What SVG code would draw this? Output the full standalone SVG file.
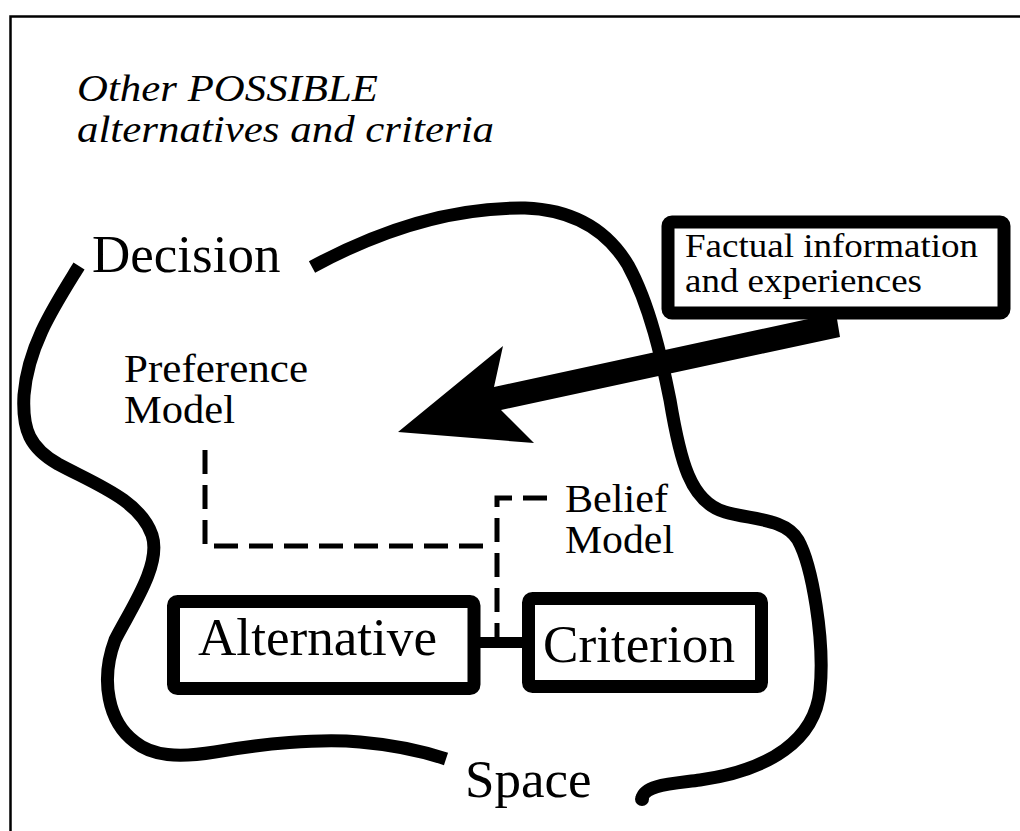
<svg xmlns="http://www.w3.org/2000/svg" width="1020" height="831" viewBox="0 0 1020 831">
  <style>
    .frame { fill: none; stroke: #000; stroke-width: 2.5; }
    .curve { fill: none; stroke: #000; stroke-width: 13; stroke-linejoin: round; }
    .box { fill: #fff; stroke: #000; stroke-width: 13; }
    .dash { fill: none; stroke: #000; stroke-width: 5; stroke-dasharray: 24 11; }
    .t { font-family: "Liberation Serif", "Times New Roman", serif; fill: #000; }
    .big { font-size: 53px; }
    .mid { font-size: 39px; }
    .small { font-size: 33px; }
    .ital { font-size: 37px; font-style: italic; }
  </style>

  <rect width="1020" height="831" fill="#fff"/>

  <!-- page frame (open on the right and bottom) -->
  <path class="frame" d="M10.5,831 V16.5 H1020"/>

  <!-- decision space boundary -->
  <g id="decision-space">
    <path class="curve" d="M79,266 C55,305 28,345 24,395 C22,430 30,448 58,464 C95,484 140,500 152,535 C162,565 130,610 115,640 C100,680 108,722 135,742 C152,756 178,758 215,752 C260,744 320,738 360,742 C395,745 425,752 446,759"/>
    <path class="curve" d="M312,267 C380,230 450,207 525,208 C580,210 610,235 628,265 C650,305 662,360 670,400 C680,460 690,502 725,512 C752,520 785,518 798,540 C812,565 825,640 820,690 C815,740 770,770 700,780 C670,784 645,785 642,798"/>
    <circle cx="642" cy="799" r="7"/>
  </g>

  <!-- information flow arrow -->
  <g id="arrow">
    <polygon points="836,313 494,387 503,346 398,432 534,443 501,410 840,337" fill="#000"/>
  </g>

  <g id="factual">
    <rect class="box" x="668" y="222" width="336" height="91" rx="4" stroke-width="10"/>
    <text class="t small" x="685" y="257" textLength="293" lengthAdjust="spacingAndGlyphs">Factual information</text>
    <text class="t small" x="685" y="292" textLength="237" lengthAdjust="spacingAndGlyphs">and experiences</text>
  </g>

  <!-- model links -->
  <g id="connectors">
    <path class="dash" d="M205,450 V546 H493"/>
    <path class="dash" d="M547,498 H497 V637"/>
    <rect x="478" y="637" width="48" height="11" fill="#000"/>
  </g>

  <g id="alternative">
    <rect class="box" x="173.5" y="601.5" width="300.5" height="87" rx="4"/>
    <text class="t big" x="198" y="655" textLength="239" lengthAdjust="spacingAndGlyphs">Alternative</text>
  </g>

  <g id="criterion">
    <rect class="box" x="528.5" y="598.5" width="233" height="88" rx="4"/>
    <text class="t big" x="543" y="662" textLength="192" lengthAdjust="spacingAndGlyphs">Criterion</text>
  </g>

  <g id="labels">
    <text class="t ital" x="77" y="101" textLength="301" lengthAdjust="spacingAndGlyphs">Other POSSIBLE</text>
    <text class="t ital" x="77" y="142" textLength="417" lengthAdjust="spacingAndGlyphs">alternatives and criteria</text>
    <text class="t big" x="92" y="272">Decision</text>
    <text class="t big" x="465" y="797">Space</text>
    <text class="t mid" x="124" y="382" textLength="184" lengthAdjust="spacingAndGlyphs">Preference</text>
    <text class="t mid" x="124" y="423" textLength="111" lengthAdjust="spacingAndGlyphs">Model</text>
    <text class="t mid" x="565" y="512" textLength="103" lengthAdjust="spacingAndGlyphs">Belief</text>
    <text class="t mid" x="565" y="553" textLength="109" lengthAdjust="spacingAndGlyphs">Model</text>
  </g>
</svg>
